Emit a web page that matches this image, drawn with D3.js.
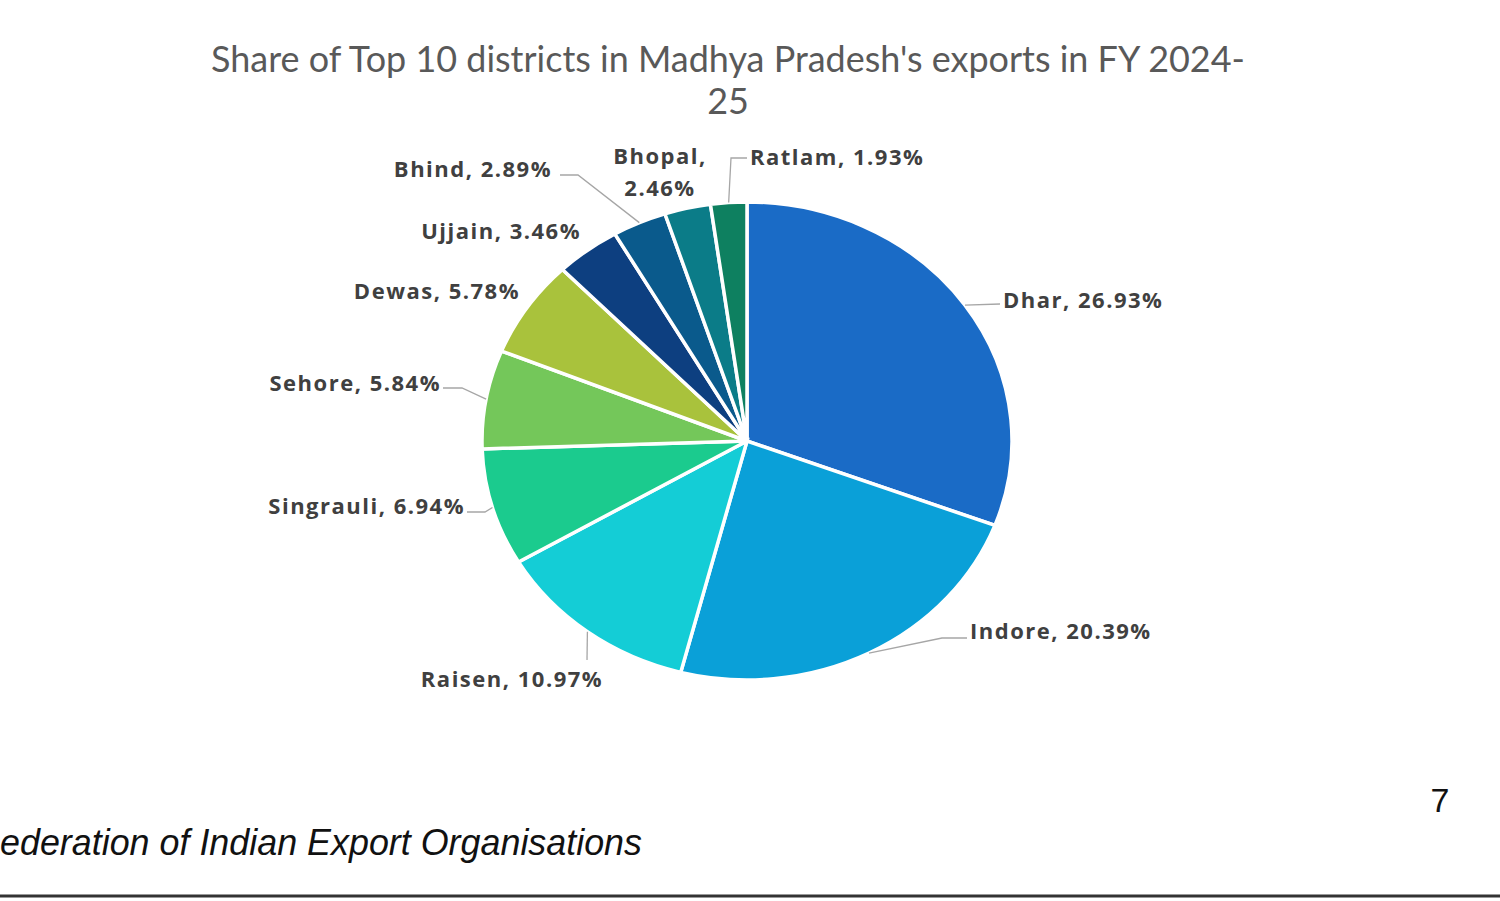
<!DOCTYPE html>
<html>
<head>
<meta charset="utf-8">
<script src="https://cdn.jsdelivr.net/npm/d3@7"></script>
<style>
  body { margin: 0; background: #fff; }
  svg { display: block; }
</style>
</head>
<body>
<div id="chart"></div>
<script>
(function() {
    // data
    var districts = ["Dhar", "Indore", "Raisen", "Singrauli", "Sehore", "Dewas", "Ujjain", "Bhind", "Bhopal", "Ratlam"];
    var shares = [26.93, 20.39, 10.97, 6.94, 5.84, 5.78, 3.46, 2.89, 2.46, 1.93];
    var colors = ["#1a6bc6", "#0aa0d8", "#14cdd6", "#1bcb8e", "#74c75a", "#a9c23c", "#0d3f80", "#0a5a8c", "#0b7c88", "#0e8060"];
    var titleLines = ["Share of Top 10 districts in Madhya Pradesh's exports in FY 2024-", "25"];
    var footerText = "ederation of Indian Export Organisations";
    var pageNumber = "7";

    var W = 1500, H = 901;
    var cx = 747, cy = 441, ry = 239, rx = 265;

    var svg = d3.select("#chart").append("svg")
        .attr("width", W)
        .attr("height", H);

    // fit a text element to a given width by adjusting font-size
    function fitWidth(sel, target) {
        var fs = parseFloat(sel.attr("font-size"));
        var w = sel.node().getComputedTextLength();
        sel.attr("font-size", (fs * target / w).toFixed(2));
    }

    // title
    var t1 = svg.append("text")
        .attr("x", 728).attr("y", 58)
        .attr("text-anchor", "middle")
        .attr("dominant-baseline", "central")
        .attr("font-family", "Lato, 'Open Sans', sans-serif")
        .attr("font-size", 31)
        .attr("fill", "#595959")
        .text(titleLines[0]);
    fitWidth(t1, 1034);
    svg.append("text")
        .attr("x", 728).attr("y", 100)
        .attr("text-anchor", "middle")
        .attr("dominant-baseline", "central")
        .attr("font-family", "Lato, 'Open Sans', sans-serif")
        .attr("font-size", t1.attr("font-size"))
        .attr("fill", "#595959")
        .text(titleLines[1]);

    var rows = districts.map(function(d, i) { return {name: d, value: shares[i], color: colors[i]}; });

    var pie = d3.pie()
        .sort(null)
        .value(d => d.value);
    var arcs = pie(rows);

    var arc = d3.arc()
        .innerRadius(0)
        .outerRadius(ry);

    // pie is stretched horizontally in the reference
    var sx = rx / ry;
    var g = svg.append("g")
        .attr("transform", "translate(" + cx + "," + cy + ") scale(" + sx + ",1)");

    g.selectAll(".slice")
        .data(arcs)
        .enter().append("path")
        .attr("class", "slice")
        .attr("d", arc)
        .attr("fill", d => d.data.color)
        .attr("stroke", "#fff")
        .attr("stroke-width", 3.5)
        .attr("vector-effect", "non-scaling-stroke");

    // point on the (stretched) edge at the mid angle of a slice
    function edgePoint(d) {
        var a = (d.startAngle + d.endAngle) / 2;
        return [cx + Math.sin(a) * ry * sx, cy - Math.cos(a) * ry];
    }

    // label placement (layout only)
    var labelLayout = {
        "Dhar":      {x: 1003, y: 299, anchor: "start", elbow: [[1000, 304]]},
        "Indore":    {x: 970,  y: 630, anchor: "start", elbow: [[942, 638], [967, 638]]},
        "Raisen":    {x: 512,  y: 678, anchor: "middle", elbow: [[587, 660]]},
        "Singrauli": {x: 465,  y: 505, anchor: "end", elbow: [[485, 512], [467, 512]]},
        "Sehore":    {x: 441,  y: 382, anchor: "end", elbow: [[462, 388], [443, 388]]},
        "Dewas":     {x: 520,  y: 290, anchor: "end", elbow: null},
        "Ujjain":    {x: 581,  y: 230, anchor: "end", elbow: null},
        "Bhind":     {x: 552,  y: 168, anchor: "end", elbow: [[578, 175], [560, 175]]},
        "Bhopal":    {x: 660,  y: 155, anchor: "middle", elbow: null, split: true},
        "Ratlam":    {x: 750,  y: 156, anchor: "start", elbow: [[731, 158], [747, 158]]}
    };

    var line = d3.line();

    arcs.forEach(function(d) {
        var L = labelLayout[d.data.name];
        if (L.elbow) {
            var pts = [edgePoint(d)].concat(L.elbow);
            svg.append("path")
                .attr("d", line(pts))
                .attr("fill", "none")
                .attr("stroke", "#a6a6a6")
                .attr("stroke-width", 1.3);
        }
        var label = d.data.name + ", " + d.data.value.toFixed(2) + "%";
        var txt = svg.append("text")
            .attr("text-anchor", L.anchor)
            .attr("font-family", "'Open Sans', 'Noto Sans', sans-serif")
            .attr("font-weight", 700)
            .attr("font-size", 22)
            .attr("letter-spacing", 1.5)
            .attr("fill", "#404040");
        if (L.split) {
            txt.append("tspan")
                .attr("x", L.x).attr("y", L.y)
                .attr("dominant-baseline", "central")
                .text(d.data.name + ",");
            txt.append("tspan")
                .attr("x", L.x).attr("y", L.y + 32)
                .attr("dominant-baseline", "central")
                .text(d.data.value.toFixed(2) + "%");
        } else {
            txt.attr("x", L.x).attr("y", L.y)
                .attr("dominant-baseline", "central")
                .text(label);
        }
    });

    // footer (condensed italic)
    svg.append("text")
        .attr("x", 0).attr("y", 842)
        .attr("dominant-baseline", "central")
        .attr("font-family", "'Liberation Sans', Arial, sans-serif")
        .attr("font-style", "italic")
        .attr("font-size", 36)
        .attr("textLength", 642)
        .attr("lengthAdjust", "spacingAndGlyphs")
        .attr("fill", "#111")
        .text(footerText);

    svg.append("text")
        .attr("x", 1440).attr("y", 800)
        .attr("text-anchor", "middle")
        .attr("dominant-baseline", "central")
        .attr("font-family", "'Liberation Sans', Arial, sans-serif")
        .attr("font-size", 34)
        .attr("fill", "#111")
        .text(pageNumber);

    svg.append("line")
        .attr("x1", 0).attr("x2", W)
        .attr("y1", 896).attr("y2", 896)
        .attr("stroke", "#333")
        .attr("stroke-width", 3);
})();
</script>
</body>
</html>
